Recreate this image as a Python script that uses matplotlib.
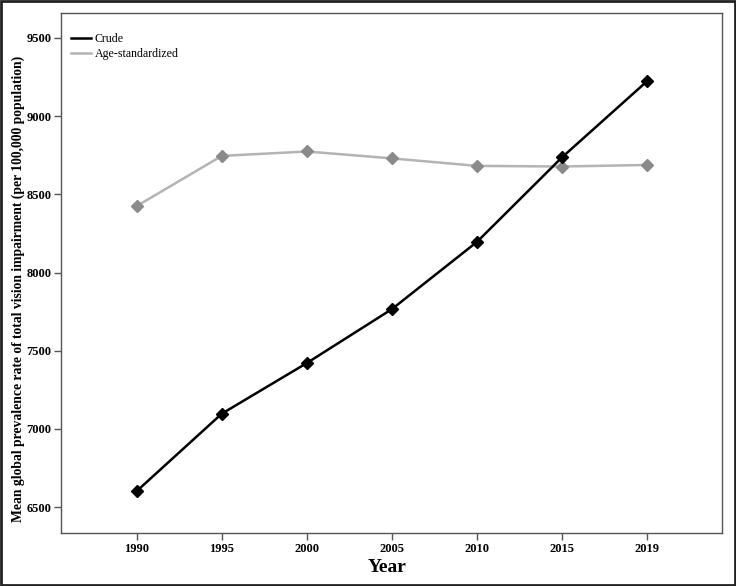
import matplotlib
matplotlib.use("Agg")
import matplotlib.pyplot as plt
from matplotlib.patches import Rectangle

years = ["1990", "1995", "2000", "2005", "2010", "2015", "2019"]
crude = [6602, 7097, 7421, 7766, 8196, 8737, 9224]
age_std = [8425, 8746, 8774, 8730, 8682, 8678, 8688]
yticks = [6500, 7000, 7500, 8000, 8500, 9000, 9500]

plt.rcParams['font.family'] = ['Liberation Serif', 'DejaVu Serif']

W, H = 736, 586
fig = plt.figure(figsize=(W / 100, H / 100), dpi=100)
ax = fig.add_axes([61 / W, (H - 533) / H, (722 - 61) / W, (533 - 12.5) / H])

x = list(range(len(years)))
ax.plot(x, crude, color='black', lw=1.8, marker='D', ms=6, label='Crude', zorder=3)
ax.plot(x, age_std, color='#b4b4b4', lw=1.8, marker='D', ms=6, mfc='#8a8a8a', mec='#8a8a8a',
        label='Age-standardized', zorder=2)

ax.set_xlim(-0.89, 6.88)
ax.set_ylim(6334, 9663)
ax.set_xticks(x)
ax.set_xticklabels(years, fontsize=9, fontweight='bold')
ax.set_yticks(yticks)
ax.set_yticklabels([str(v) for v in yticks], fontsize=9, fontweight='bold')
ax.tick_params(axis='both', direction='out', length=5, width=1, color='#555555', pad=2)
for s in ax.spines.values():
    s.set_color('#555555')
    s.set_linewidth(1.0)

ax.set_xlabel('Year', fontsize=14, fontweight='bold')
ax.xaxis.set_label_coords((387 - 61) / (722 - 61), -(568 - 533) / (533 - 12.5), transform=ax.transAxes)
ax.xaxis.label.set_va('center')
ax.set_ylabel('Mean global prevalence rate of total vision impairment (per 100,000 population)',
              fontsize=9.8, fontweight='bold')
ax.yaxis.set_label_coords(-(61 - 18) / (722 - 61), (533 - 289) / (533 - 12.5), transform=ax.transAxes)
ax.yaxis.label.set_va('center')

leg = ax.legend(loc='upper left', frameon=False, fontsize=8.6, handlelength=1.7,
                handletextpad=0.3, labelspacing=0.25, borderaxespad=0.0,
                bbox_to_anchor=(5 / (722 - 61), 1 - 16 / (533 - 12.5)))
for h in leg.legend_handles:
    h.set_marker('')

fig.patches.append(Rectangle((0.0015, 0.002), 0.997, 0.996, transform=fig.transFigure,
                             fill=False, edgecolor='#222222', lw=2))

fig.savefig('out.png', dpi=100)
